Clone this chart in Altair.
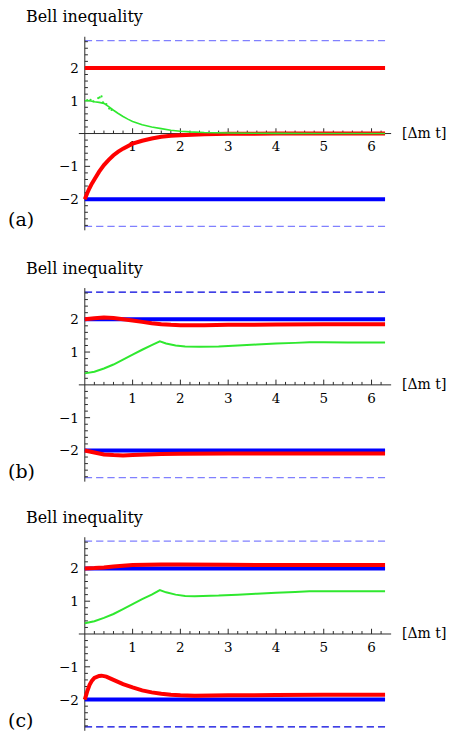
import altair as alt
import pandas as pd

# ---------------- data ----------------
T_END = 6.283
TSIREL = 2.83

# panel (a)
a_red_const = [2.0]
a_blue_const = [-2.0]
a_red_t = [0, 0.05, 0.1, 0.15, 0.2, 0.3, 0.4, 0.5, 0.6, 0.7, 0.8, 1.0, 1.2, 1.4, 1.6, 1.8, 2.0, 2.5, 3.0, 4.0, 5.0, 6.283]
a_red_v = [-2.0, -1.82, -1.66, -1.52, -1.40, -1.16, -0.96, -0.80, -0.66, -0.55, -0.46, -0.31, -0.22, -0.15, -0.10, -0.07, -0.05, -0.02, -0.008, -0.002, 0.0, 0.0]
a_green_t = [0, 0.1, 0.2, 0.3, 0.4, 0.5, 0.6, 0.7, 0.8, 0.9, 1.0, 1.2, 1.4, 1.6, 1.8, 2.0, 2.2, 2.5, 3.0, 3.5, 4.0, 5.0, 6.283]
a_green_v = [1.0, 1.0, 0.97, 0.95, 0.92, 0.82, 0.71, 0.61, 0.52, 0.44, 0.37, 0.27, 0.2, 0.15, 0.1, 0.07, 0.05, 0.03, 0.015, 0.008, 0.005, 0.002, 0.001]
a_green_dots_t = [0.05, 0.12, 0.18, 0.28, 0.31, 0.35, 0.38, 0.45, 0.51, 0.56]
a_green_dots_v = [1.02, 1.03, 0.98, 1.08, 1.10, 1.13, 0.95, 0.90, 0.76, 0.72]

# panel (b)
b_blue_const = [2.0, -2.0]
b_red_up_t = [0, 0.2, 0.4, 0.6, 0.8, 1.0, 1.2, 1.4, 1.6, 1.8, 2.0, 2.5, 3.0, 4.0, 5.0, 6.283]
b_red_up_v = [2.0, 2.03, 2.05, 2.04, 2.0, 1.96, 1.92, 1.88, 1.85, 1.83, 1.82, 1.82, 1.83, 1.84, 1.85, 1.85]
b_red_lo_t = [0, 0.2, 0.4, 0.6, 0.8, 1.0, 1.3, 1.6, 2.0, 3.0, 4.0, 5.0, 6.283]
b_red_lo_v = [-2.0, -2.06, -2.12, -2.14, -2.15, -2.14, -2.12, -2.11, -2.10, -2.09, -2.09, -2.09, -2.09]
b_green_t = [0, 0.2, 0.4, 0.6, 0.8, 1.0, 1.2, 1.4, 1.57, 1.7, 1.9, 2.1, 2.4, 2.8, 3.2, 3.6, 4.0, 4.4, 4.7, 5.0, 5.5, 6.283]
b_green_v = [0.35, 0.40, 0.50, 0.62, 0.77, 0.92, 1.07, 1.21, 1.33, 1.26, 1.20, 1.17, 1.16, 1.17, 1.20, 1.23, 1.26, 1.28, 1.30, 1.30, 1.29, 1.29]

# panel (c)
c_blue_const = [2.0, -2.0]
c_red_up_t = [0, 0.2, 0.4, 0.6, 0.8, 1.0, 1.3, 1.6, 2.0, 3.0, 4.0, 5.0, 6.283]
c_red_up_v = [2.0, 2.01, 2.03, 2.06, 2.08, 2.10, 2.11, 2.12, 2.12, 2.11, 2.10, 2.10, 2.10]
c_red_lo_t = [0, 0.05, 0.1, 0.15, 0.2, 0.3, 0.35, 0.45, 0.6, 0.8, 1.0, 1.2, 1.4, 1.6, 1.8, 2.0, 2.3, 3.0, 4.0, 5.0, 6.283]
c_red_lo_v = [-2.0, -1.75, -1.55, -1.42, -1.34, -1.28, -1.27, -1.30, -1.40, -1.53, -1.63, -1.72, -1.78, -1.82, -1.85, -1.87, -1.88, -1.87, -1.86, -1.85, -1.85]
c_green_t = [0, 0.2, 0.4, 0.6, 0.8, 1.0, 1.2, 1.4, 1.57, 1.7, 1.9, 2.1, 2.3, 2.8, 3.2, 3.6, 4.0, 4.4, 4.7, 5.0, 5.5, 6.283]
c_green_v = [0.33, 0.39, 0.49, 0.61, 0.76, 0.91, 1.06, 1.20, 1.34, 1.27, 1.20, 1.16, 1.15, 1.17, 1.20, 1.23, 1.26, 1.28, 1.30, 1.30, 1.30, 1.30]

x_tick_labels = [1, 2, 3, 4, 5, 6]
y_tick_labels = [-2, -1, 1, 2]
x_minor = [round(i * 0.2, 1) for i in range(1, 32) if i % 5 != 0]
y_minor = [round(i * 0.2, 1) for i in range(-14, 15) if i % 5 != 0]

# ---------------- style ----------------
FONT = "DejaVu Serif"
W, H = 313, 194
XMIN, XMAX = -0.125, 6.41
YMIN, YMAX = -2.95, 2.95
RED, BLUE, GREEN = "#ff0000", "#0000ff", "#2fe82f"
DASH_LIGHT, DASH_DARK = "#8080ff", "#0000dd"
AXIS = "#2a2a2a"
XT_MAJ, XT_MIN = 0.16, 0.09    # tick length, y data units
YT_MAJ, YT_MIN = 0.11, 0.065   # tick length, x data units

xs = alt.Scale(domain=[XMIN, XMAX], nice=False, zero=False)
ys = alt.Scale(domain=[YMIN, YMAX], nice=False, zero=False)


def X(f):
    return alt.X(f"{f}:Q", scale=xs, axis=None)


def Y(f):
    return alt.Y(f"{f}:Q", scale=ys, axis=None)


def series(t, v):
    return pd.DataFrame({"t": t, "v": v})


def line(df, color, width, dash=None):
    kw = dict(color=color, strokeWidth=width, clip=False)
    if dash:
        kw["strokeDash"] = dash
    return alt.Chart(df).mark_line(**kw).encode(x=X("t"), y=Y("v"))


def const(level, color, width, dash=None):
    return line(series([0, T_END], [level, level]), color, width, dash)


def axes_layers():
    xa = alt.Chart(pd.DataFrame({"a": [XMIN], "b": [XMAX], "y": [0.0]})).mark_rule(
        color=AXIS, strokeWidth=1).encode(x=X("a"), x2="b:Q", y=Y("y"))
    ya = alt.Chart(pd.DataFrame({"x": [0.0], "a": [YMIN], "b": [YMAX]})).mark_rule(
        color=AXIS, strokeWidth=1).encode(x=X("x"), y=Y("a"), y2="b:Q")
    xt_df = pd.DataFrame({"p": x_tick_labels + x_minor,
                          "l": [XT_MAJ] * len(x_tick_labels) + [XT_MIN] * len(x_minor)})
    xt = alt.Chart(xt_df).transform_calculate(y0="0").mark_rule(
        color=AXIS, strokeWidth=1).encode(x=X("p"), y=Y("y0"), y2="l:Q")
    yt_df = pd.DataFrame({"p": y_tick_labels + y_minor,
                          "l": [YT_MAJ] * len(y_tick_labels) + [YT_MIN] * len(y_minor)})
    yt = alt.Chart(yt_df).transform_calculate(x0="0").mark_rule(
        color=AXIS, strokeWidth=1).encode(y=Y("p"), x=X("x0"), x2="l:Q")
    xl = alt.Chart(pd.DataFrame({"p": x_tick_labels, "s": [str(k) for k in x_tick_labels]})
                   ).transform_calculate(y0="0").mark_text(
        font=FONT, fontSize=13.5, align="center", baseline="alphabetic", dy=18, color="black"
    ).encode(x=X("p"), y=Y("y0"), text="s:N")
    yl = alt.Chart(pd.DataFrame({"p": y_tick_labels,
                                 "s": [str(k).replace("-", "\u2212") for k in y_tick_labels]})
                   ).transform_calculate(x0="0").mark_text(
        font=FONT, fontSize=13.5, align="right", baseline="alphabetic", dx=-6, dy=4.9, color="black"
    ).encode(y=Y("p"), x=X("x0"), text="s:N")
    xtitle = alt.Chart(pd.DataFrame({"s": ["[\u0394m t]"], "x": [XMAX], "y": [0.0]})).mark_text(
        font=FONT, fontSize=14, align="left", baseline="middle", dx=11, color="black"
    ).encode(x=X("x"), y=Y("y"), text="s:N")
    return [xa, ya, xt, yt, xl, yl, xtitle]


def texts(letter):
    title = alt.Chart(pd.DataFrame({"s": ["Bell inequality"]})).mark_text(
        font=FONT, fontSize=16, align="left", baseline="middle", color="black"
    ).encode(x=alt.value(-53), y=alt.value(-19.3), text="s:N")
    lab = alt.Chart(pd.DataFrame({"s": [letter]})).mark_text(
        font=FONT, fontSize=19, align="left", baseline="middle", color="black"
    ).encode(x=alt.value(-71), y=alt.value(184), text="s:N")
    return [title, lab]


def panel(letter, top_dash, bot_dash, data_layers):
    layers = [const(TSIREL, top_dash, 1.3, [7.3, 4]), const(-TSIREL, bot_dash, 1.3, [7.3, 4])]
    layers += axes_layers()
    layers += data_layers
    layers += texts(letter)
    return alt.layer(*layers).properties(width=W, height=H)


green_dots = alt.Chart(series(a_green_dots_t, a_green_dots_v)).mark_circle(
    color=GREEN, size=5, opacity=1).encode(x=X("t"), y=Y("v"))

pa = panel("(a)", DASH_LIGHT, DASH_LIGHT, [
    const(a_blue_const[0], BLUE, 4),
    const(a_red_const[0], RED, 4),
    line(series(a_red_t, a_red_v), RED, 4),
    line(series(a_green_t, a_green_v), GREEN, 1.6),
    green_dots,
])

pb = panel("(b)", DASH_DARK, DASH_LIGHT, [
    const(b_blue_const[0], BLUE, 4),
    const(b_blue_const[1], BLUE, 4),
    line(series(b_red_up_t, b_red_up_v), RED, 4),
    line(series(b_red_lo_t, b_red_lo_v), RED, 4),
    line(series(b_green_t, b_green_v), GREEN, 2),
])

pc = panel("(c)", DASH_LIGHT, DASH_DARK, [
    const(c_blue_const[0], BLUE, 4),
    const(c_blue_const[1], BLUE, 4),
    line(series(c_red_up_t, c_red_up_v), RED, 4),
    line(series(c_red_lo_t, c_red_lo_v), RED, 4),
    line(series(c_green_t, c_green_v), GREEN, 2),
])

chart = alt.vconcat(pa, alt.vconcat(pb, pc, spacing=26.7), spacing=28.9).properties(
    padding={"left": 0, "top": 0, "right": 0, "bottom": 0}
).configure_view(stroke=None)

chart.save("out.html", embed_options={"renderer": "svg", "actions": False})
